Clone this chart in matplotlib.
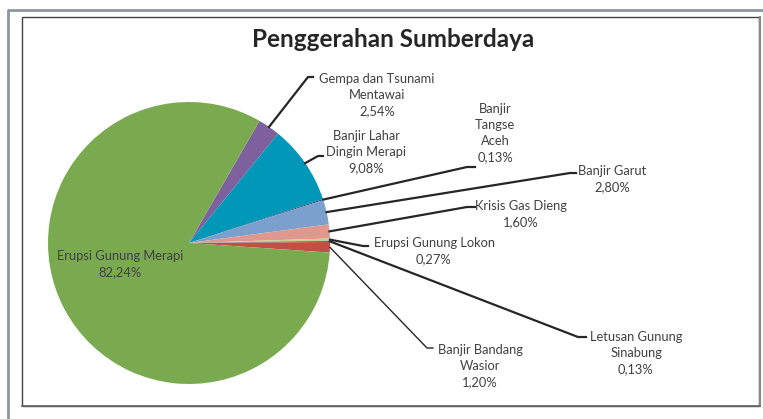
import numpy as np
import matplotlib.pyplot as plt
from matplotlib.patches import Rectangle

# data
labels = ['Gempa dan Tsunami\nMentawai', 'Banjir Lahar\nDingin Merapi', 'Banjir\nTangse\nAceh',
          'Banjir Garut', 'Krisis Gas Dieng', 'Erupsi Gunung Lokon', 'Letusan Gunung\nSinabung',
          'Banjir Bandang\nWasior', 'Erupsi Gunung Merapi']
values = [2.54, 9.08, 0.13, 2.80, 1.60, 0.27, 0.13, 1.20, 82.24]
pct_text = ['2,54%', '9,08%', '0,13%', '2,80%', '1,60%', '0,27%', '0,13%', '1,20%', '82,24%']
colors = ['#7E609C', '#0097B9', '#2C4D75', '#7CA0CE', '#E0978D', '#B8D496', '#4A78B0', '#C24F45', '#7AAA50']

# layout (pixel coords, y down)
W, H = 763, 419
cx, cy, R = 189, 243, 141
# label text center, leader elbow point, horizontal end
lab_pos = [(377, 95), (366, 152), (495, 133), (612, 179), (521, 214), (434, 251),
           (636, 353), (480, 366), (120, 264)]
elbow = [(308, 77), (318, 156), (467, 167), (570, 173), (467, 207), (363, 246),
         (578, 337), (427, 348), None]
hend = [(313, 77), (323, 156), (475, 167), (576, 173), (475, 207), (368, 246),
        (586, 337), (433, 348), None]

plt.rcParams['font.family'] = ['Lato', 'DejaVu Sans']
fig = plt.figure(figsize=(W / 100, H / 100), dpi=100)
ax = fig.add_axes([0, 0, 1, 1])

wedges, _ = ax.pie(values, colors=colors, startangle=-60, counterclock=True,
                   center=(cx, cy), radius=R, wedgeprops=dict(linewidth=0))
ax.set_xlim(0, W)
ax.set_ylim(H, 0)
ax.set_aspect('equal')
ax.axis('off')

# frames
ax.plot([7, W], [10, 10], color='#8E959E', lw=2, solid_capstyle='butt')
ax.plot([8, 8], [10, H], color='#8E959E', lw=2, solid_capstyle='butt')
ax.add_patch(Rectangle((22, 17), 737, 389, fill=False, ec='#444444', lw=1.0))
ax.plot([759.5, 759.5], [17, 406], color='#888888', lw=1.5)
ax.plot([22, 760], [406.5, 406.5], color='#666666', lw=1.2)

ax.text(393, 39, 'Penggerahan Sumberdaya', ha='center', va='center',
        fontsize=17.5, fontweight='bold', color='#262626')

for i, w in enumerate(wedges):
    txt = labels[i] + '\n' + pct_text[i]
    ax.text(lab_pos[i][0], lab_pos[i][1], txt, ha='center', va='center',
            fontsize=9.3, color='#404040', linespacing=1.38)
    if elbow[i] is None:
        continue
    ang = np.deg2rad((w.theta1 + w.theta2) / 2)
    x0 = cx + R * np.cos(ang)
    y0 = cy + R * np.sin(ang)
    lw = 1.0 if i == 7 else 1.6
    ax.plot([x0, elbow[i][0], hend[i][0]], [y0, elbow[i][1], hend[i][1]],
            color='#262626', lw=lw)

fig.savefig('out.png', dpi=100)
